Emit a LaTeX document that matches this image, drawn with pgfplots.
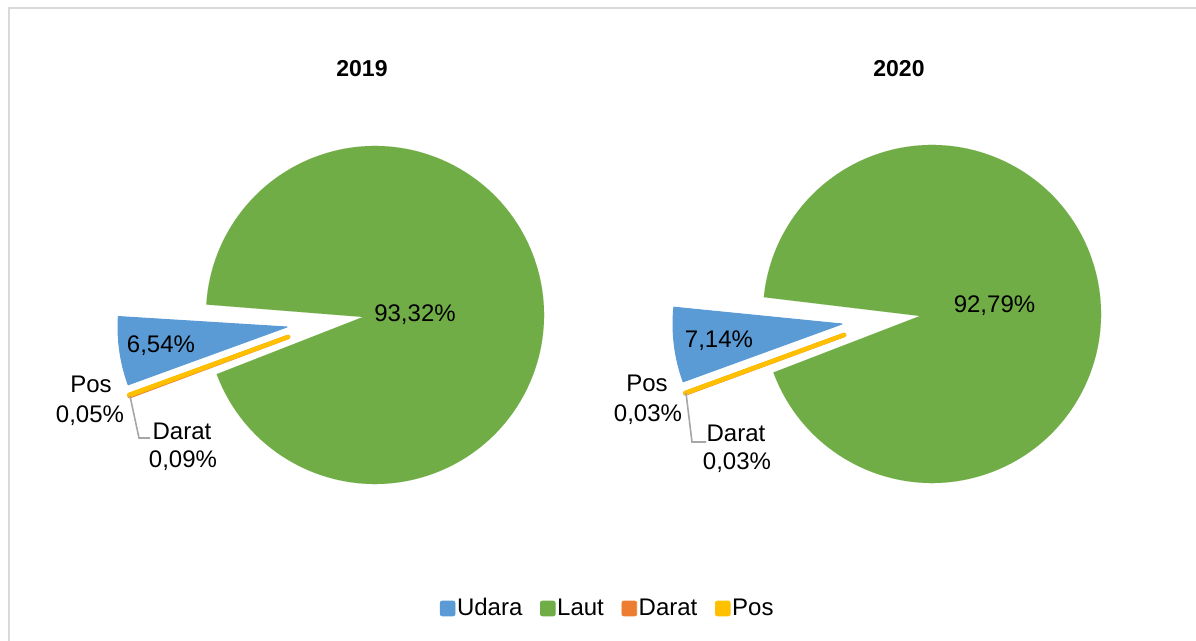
\documentclass[border=0pt]{standalone}
\usepackage{fontspec}
\setmainfont{Liberation Sans}
\usepackage{pgfplots}
\usepackage{pgfplotstable}
\pgfplotsset{compat=1.18}

\definecolor{cUdara}{HTML}{5B9BD5}
\definecolor{cLaut}{HTML}{70AD47}
\definecolor{cDarat}{HTML}{ED7D31}
\definecolor{cPos}{HTML}{FFC000}
\definecolor{cFrame}{HTML}{D9D9D9}
\definecolor{cLeader}{HTML}{A6A6A6}

% value = share in percent; dx,dy = explosion offset of slice (px); vx,vy = apex offset
\pgfplotstableread{
mode  value dx  dy  vx  vy  lw   col
Udara 6.54  -88 -12 0   0   0.5  cUdara
Laut  93.32 0   0   -12 -2  0.01 cLaut
Darat 0.09  -87 -22 0   0   2.2  cDarat
Pos   0.05  -87 -22 0   0   2.2  cPos
}\pieA

\pgfplotstableread{
mode  value dx  dy  vx  vy  lw   col
Udara 7.14  -90 -10 0   0   0.5  cUdara
Laut  92.79 0   0   -12 -2  0.01 cLaut
Darat 0.03  -88 -21 0   0   2.2  cDarat
Pos   0.03  -88 -21 0   0   2.2  cPos
}\pieB

\newcommand\drawpie[4]{% table, cx, cy, start angle
  \pgfmathsetmacro\pcur{#4}%
  \pgfplotsforeachungrouped \i in {0,1,2,3}{%
    \pgfplotstablegetelem{\i}{value}\of{#1}\let\pval\pgfplotsretval
    \pgfplotstablegetelem{\i}{dx}\of{#1}\let\pdx\pgfplotsretval
    \pgfplotstablegetelem{\i}{dy}\of{#1}\let\pdy\pgfplotsretval
    \pgfplotstablegetelem{\i}{vx}\of{#1}\let\pvx\pgfplotsretval
    \pgfplotstablegetelem{\i}{vy}\of{#1}\let\pvy\pgfplotsretval
    \pgfplotstablegetelem{\i}{lw}\of{#1}\let\plw\pgfplotsretval
    \pgfplotstablegetelem{\i}{col}\of{#1}\let\pcol\pgfplotsretval
    \pgfmathsetmacro\pone{\pcur-3.6*\pval}%
    \pgfmathsetmacro\pacx{#2+\pdx}%
    \pgfmathsetmacro\pacy{#3+\pdy}%
    \pgfmathsetmacro\papx{\pacx+\pvx}%
    \pgfmathsetmacro\papy{\pacy+\pvy}%
    \pgfmathsetmacro\psx{\pacx+169*cos(\pone)}%
    \pgfmathsetmacro\psy{\pacy+169*sin(\pone)}%
    \edef\ptemp{\noexpand\filldraw[fill=\pcol,draw=\pcol,line width=\plw pt,line join=round]
      (axis cs:\papx,\papy) -- (axis cs:\psx,\psy)
      arc[start angle=\pone, end angle=\pcur, radius=84.5pt] -- cycle;}%
    \ptemp
    \let\pcur\pone
  }%
}

\begin{document}
\begin{tikzpicture}
\begin{axis}[
  name=ax,
  scale only axis, width=598pt, height=320.5pt,
  xmin=0, xmax=1196, ymin=0, ymax=641,
  hide axis, clip=false,
  legend columns=4,
  legend style={at={(axis cs:607.5,32.5)}, anchor=center, draw=none, fill=none,
    font=\fontsize{12}{14}\selectfont, nodes={inner sep=0.8pt},
    /tikz/every even column/.append style={column sep=8pt}},
]
% frame
\draw[cFrame, line width=1pt] (axis cs:9,-20) -- (axis cs:9,633) -- (axis cs:1220,633);

\addlegendimage{legend image code/.code={\fill[cUdara,rounded corners=1pt] (0pt,-3.7pt) rectangle (7.4pt,3.7pt);}}
\addlegendentry{Udara}
\addlegendimage{legend image code/.code={\fill[cLaut,rounded corners=1pt] (0pt,-3.7pt) rectangle (7.4pt,3.7pt);}}
\addlegendentry{Laut}
\addlegendimage{legend image code/.code={\fill[cDarat,rounded corners=1pt] (0pt,-3.7pt) rectangle (7.4pt,3.7pt);}}
\addlegendentry{Darat}
\addlegendimage{legend image code/.code={\fill[cPos,rounded corners=1pt] (0pt,-3.7pt) rectangle (7.4pt,3.7pt);}}
\addlegendentry{Pos}

\drawpie{\pieA}{375}{326}{200}
\drawpie{\pieB}{932}{327}{200}

% titles
\node[anchor=base, font=\bfseries\fontsize{11.5}{14}\selectfont] at (axis cs:362,564) {2019};
\node[anchor=base, font=\bfseries\fontsize{11.5}{14}\selectfont] at (axis cs:899,564) {2020};

% leader lines
\draw[cLeader, line width=0.8pt] (axis cs:130,245) -- (axis cs:139,203) -- (axis cs:150,203);
\draw[cLeader, line width=0.8pt] (axis cs:686,248) -- (axis cs:692,199) -- (axis cs:706,199);

% data labels
\begin{scope}[every node/.style={anchor=base, font=\fontsize{12}{14}\selectfont, inner sep=0pt}]
\node at (axis cs:415,319) {93,32\%};
\node at (axis cs:161,288) {6,54\%};
\node at (axis cs:91,248) {Pos};
\node at (axis cs:90,218) {0,05\%};
\node at (axis cs:182,201) {Darat};
\node at (axis cs:183,173) {0,09\%};
\node at (axis cs:994.5,328) {92,79\%};
\node at (axis cs:719,293) {7,14\%};
\node at (axis cs:647,249) {Pos};
\node at (axis cs:648,219) {0,03\%};
\node at (axis cs:736,199) {Darat};
\node at (axis cs:737,171) {0,03\%};
\end{scope}
\end{axis}
\pgfresetboundingbox
\useasboundingbox (ax.south west) rectangle (ax.north east);
\end{tikzpicture}
\end{document}
